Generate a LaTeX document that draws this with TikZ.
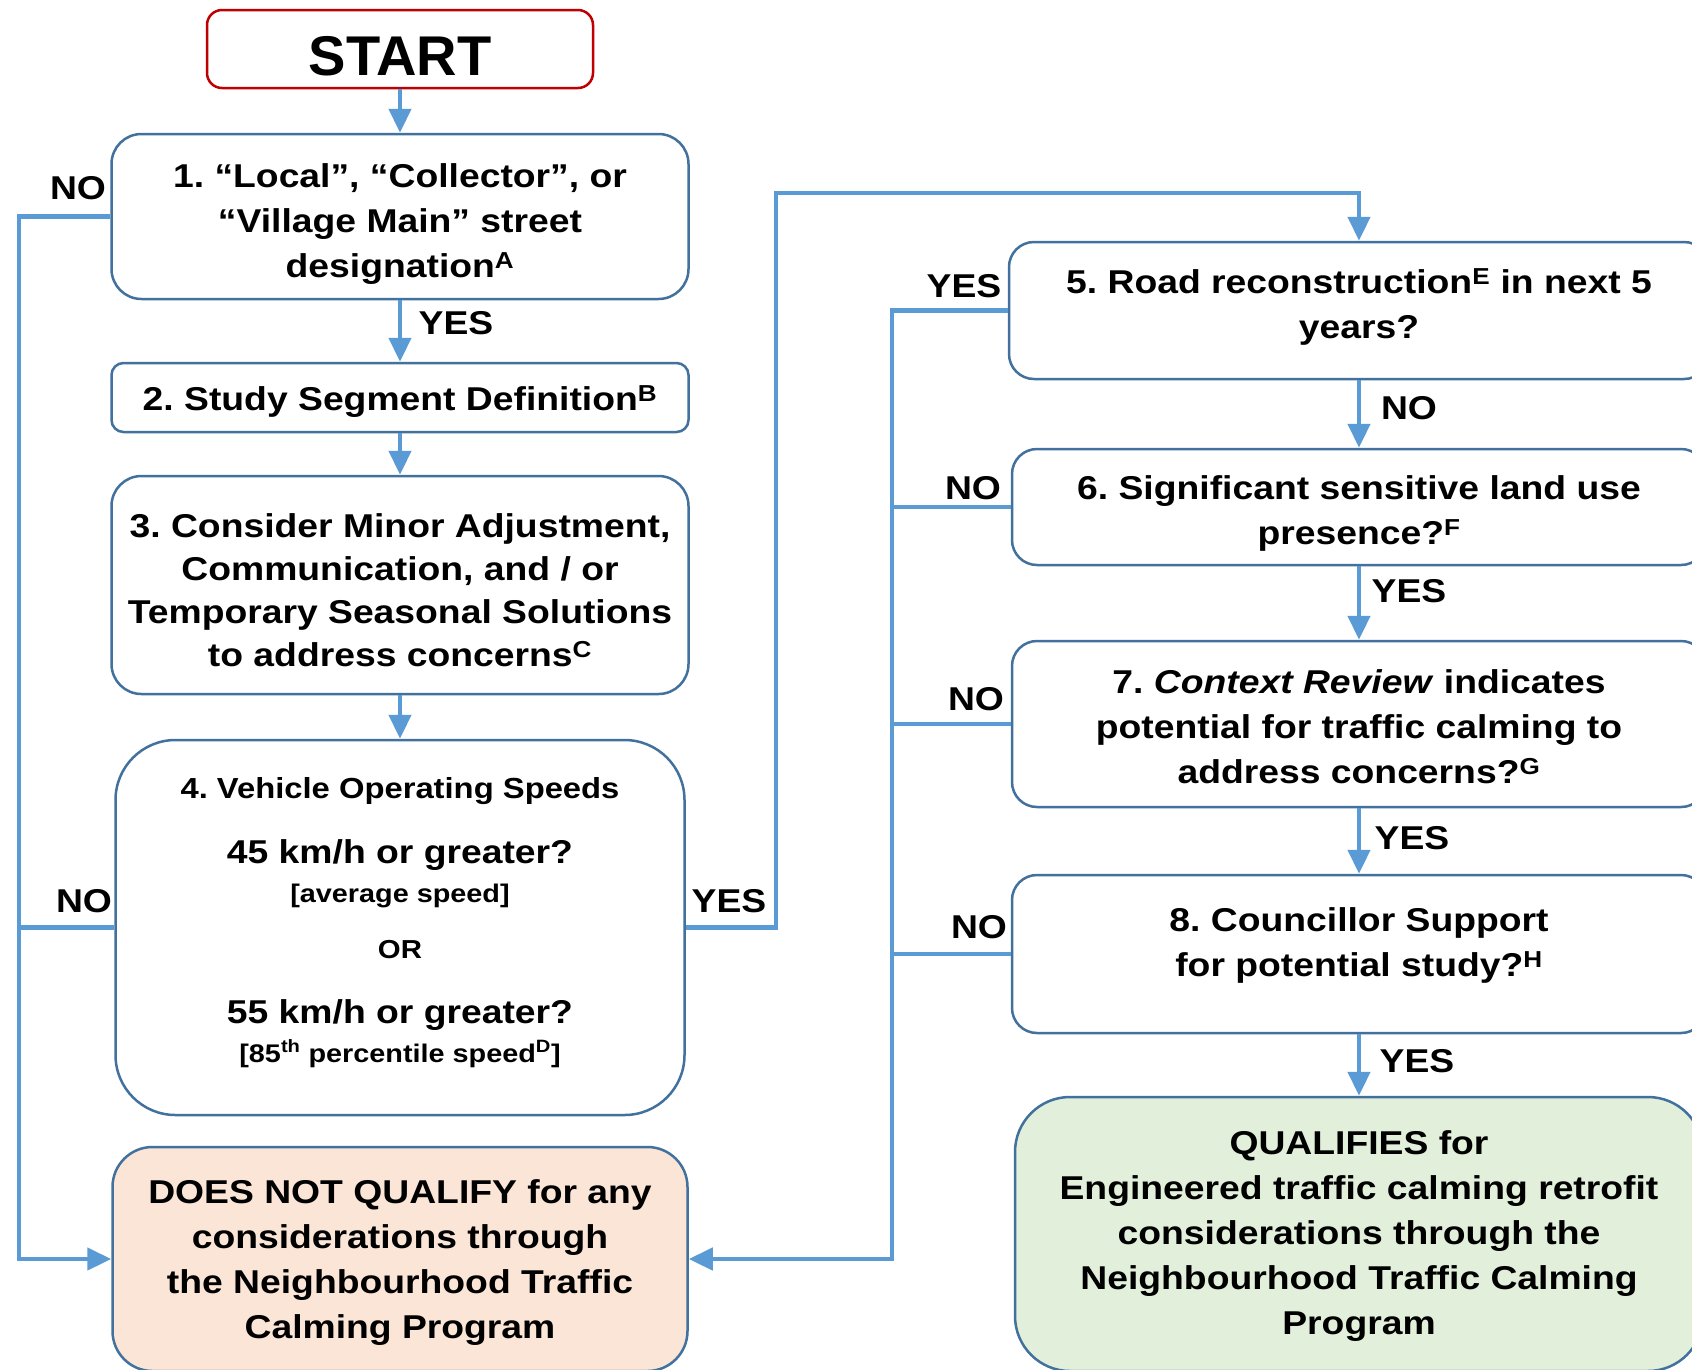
\documentclass[tikz,border=0pt]{standalone}
\usepackage{fontspec}
\setmainfont{Liberation Sans}[FakeStretch=1.13]
\newfontfamily\plainsans{Liberation Sans}
\usetikzlibrary{arrows.meta}
\definecolor{connblue}{HTML}{5B9BD5}
\definecolor{bord}{HTML}{41719C}
\definecolor{startred}{HTML}{C00000}
\definecolor{dnqfill}{HTML}{FBE5D6}
\definecolor{qfill}{HTML}{E2EFDA}
\frenchspacing
\begin{document}
\begin{tikzpicture}[x=1pt,y=-1pt,
  box/.style={draw=bord, line width=2.5pt, fill=white, rectangle, rounded corners=#1,
    inner sep=0pt},
  box/.default=28pt,
  boxtext/.style={align=center, inner sep=0pt, font=\fontsize{33}{45}\selectfont\bfseries},
  link/.style={draw=connblue, line width=4.5pt, -{Triangle[width=22pt,length=24pt]}},
  plainlink/.style={draw=connblue, line width=4.5pt},
  lbl/.style={font=\fontsize{33}{40}\selectfont\bfseries, inner sep=0pt},
  b4txt/.style={anchor=base, inner sep=0pt, font=\bfseries}
]
\useasboundingbox (0,0) rectangle (1692,1369);
\fill[white] (0,0) rectangle (1692,1369);

% left column
\node[box=15pt, draw=startred, minimum width=386pt, minimum height=78pt] (start) at (400,49) {};
\node[inner sep=0pt, font=\plainsans\fontsize{56}{60}\selectfont\bfseries] (startt) at (400,56) {START};

\node[box=30pt, minimum width=577pt, minimum height=165pt] (b1) at (400,216.5) {};
\node[boxtext] (b1t) at (400,224)
  {1. “Local”, “Collector”, or\\“Village Main” street\\designation\textsuperscript{A}};

\node[box=12pt, minimum width=577pt, minimum height=69pt] (b2) at (400,397.5) {};
\node[boxtext] (b2t) at (400,401.5) {2. Study Segment Definition\textsuperscript{B}};

\node[box=30pt, minimum width=577pt, minimum height=218pt] (b3) at (400,585) {};
\node[boxtext, font=\fontsize{33}{43}\selectfont\bfseries] (b3t) at (400,590)
  {3. Consider Minor Adjustment,\\Communication, and / or\\Temporary Seasonal Solutions\\to address concerns\textsuperscript{C}};

\node[box=60pt, minimum width=569pt, minimum height=375pt] (b4) at (400,927.5) {};
\node[b4txt, font=\fontsize{29}{31}\selectfont\bfseries] (b4a) at (400,798) {4. Vehicle Operating Speeds};
\node[b4txt, font=\fontsize{33}{36}\selectfont\bfseries] (b4b) at (400,863) {45 km/h or greater?};
\node[b4txt, font=\fontsize{25.5}{27}\selectfont\bfseries] (b4c) at (400,902) {[average speed]};
\node[b4txt, font=\fontsize{26}{28}\selectfont\bfseries] (b4d) at (400,958) {OR};
\node[b4txt, font=\fontsize{33}{36}\selectfont\bfseries] (b4e) at (400,1023) {55 km/h or greater?};
\node[b4txt, font=\fontsize{25.5}{27}\selectfont\bfseries] (b4f) at (400,1062) {[85\textsuperscript{th} percentile speed\textsuperscript{D}]};

\node[box=40pt, fill=dnqfill, minimum width=575pt, minimum height=224pt] (dnq) at (400,1259) {};
\node[boxtext] (dnqt) at (400,1263)
  {DOES NOT QUALIFY for any\\considerations through\\the Neighbourhood Traffic\\Calming Program};

% right column
\node[box=25pt, minimum width=700pt, minimum height=137pt] (b5) at (1359,310.5) {};
\node[boxtext] (b5t) at (1359,306.5) {5. Road reconstruction\textsuperscript{E} in next 5\\years?};

\node[box=25pt, minimum width=694pt, minimum height=116pt] (b6) at (1359,507) {};
\node[boxtext] (b6t) at (1359,513.5) {6. Significant sensitive land use\\presence?\textsuperscript{F}};

\node[box=25pt, minimum width=694pt, minimum height=166pt] (b7) at (1359,724) {};
\node[boxtext] (b7t) at (1359,727)
  {7. \textit{Context Review} indicates\\potential for traffic calming to\\address concerns?\textsuperscript{G}};

\node[box=25pt, minimum width=694pt, minimum height=158pt] (b8) at (1359,954) {};
\node[boxtext] (b8t) at (1359,945) {8. Councillor Support\\for potential study?\textsuperscript{H}};

\node[box=55pt, fill=qfill, minimum width=688pt, minimum height=274pt] (q) at (1359,1234) {};
\node[boxtext] (qt) at (1359,1236.5)
  {QUALIFIES for\\Engineered traffic calming retrofit\\considerations through the\\Neighbourhood Traffic Calming\\Program};

% bus coordinates
\coordinate (leftbus) at (19,0);
\coordinate (midbus) at (776,0);
\coordinate (topbus) at (0,193);
\coordinate (rbus) at (892,0);

% connectors
\draw[link] (start) -- (b1);
\draw[link] (b1) -- (b2);
\draw[link] (b2) -- (b3);
\draw[link] (b3) -- (b4);
\draw[link] (b1.west) -- (b1.west -| leftbus) |- (dnq.west);
\draw[plainlink] (b4.west) -- (b4.west -| leftbus);
\draw[link] (b4.east) -- (b4.east -| midbus) -- (midbus |- topbus) -- (topbus -| b5.north) -- (b5.north);
\draw[link] (b5) -- (b6);
\draw[link] (b6) -- (b7);
\draw[link] (b7) -- (b8);
\draw[link] (b8) -- (q);
\draw[link] (b5.west) -- (b5.west -| rbus) |- (dnq.east);
\draw[plainlink] (b6.west) -- (b6.west -| rbus);
\draw[plainlink] (b7.west) -- (b7.west -| rbus);
\draw[plainlink] (b8.west) -- (b8.west -| rbus);

% labels
\node[lbl] (l1) at (78,188) {NO};
\node[lbl] (l2) at (456,323) {YES};
\node[lbl] (l3) at (84,901) {NO};
\node[lbl] (l4) at (729,901) {YES};
\node[lbl] (l5) at (964,286) {YES};
\node[lbl] (l6) at (1409,408) {NO};
\node[lbl] (l7) at (973,488) {NO};
\node[lbl] (l8) at (1409,591) {YES};
\node[lbl] (l9) at (976,699) {NO};
\node[lbl] (l10) at (1412,838) {YES};
\node[lbl] (l11) at (979,927) {NO};
\node[lbl] (l12) at (1417,1061) {YES};
\end{tikzpicture}
\end{document}
